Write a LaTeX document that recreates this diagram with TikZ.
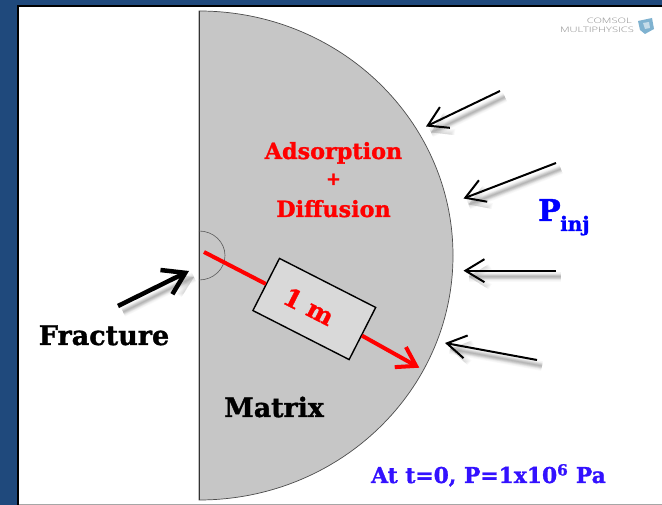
\documentclass[tikz,border=0pt]{standalone}
\usepackage{fontspec}
\setmainfont[BoldFeatures={FakeBold=1.2}]{DejaVu Serif}
\newfontfamily\logofont[FakeStretch=1.48]{Open Sans Light}
\usetikzlibrary{arrows.meta}
\definecolor{frameblue}{HTML}{1F497C}
\definecolor{matrixgray}{HTML}{C6C6C6}
\definecolor{boxgray}{HTML}{D9D9D9}
\definecolor{atblue}{HTML}{3311FF}
\definecolor{cubeblue}{HTML}{7FB2D0}
\tikzset{
  lbl/.style={font=\bfseries, inner sep=0pt, anchor=base},
  injtip/.style={-{Straight Barb[length=19pt,width=23pt,line width=2pt]}},
  injarrow/.style={line width=2pt, injtip},
  fractip/.style={-{Straight Barb[length=21pt,width=27pt,line width=4.5pt]}},
  fracarrow/.style={line width=4.5pt, fractip},
  redarrow/.style={red, line width=4pt},
  softshadow/.style={black, opacity=0.025, transform canvas={shift={(5pt,-6pt)}}},
}
\newcommand{\softline}[2]{%
  \foreach \w in {1,2.5,4,5.5,7,8.5,10}{\draw[softshadow, line width=\w pt] (#1) -- (#2);}%
  \foreach \w in {1,2,3,4,5,6}{\draw[softshadow, line width=\w pt, -{Straight Barb[length=16pt,width=20pt]}] (#1) -- (#2);}%
}
\begin{document}
\begin{tikzpicture}[x=1pt,y=1pt]
\useasboundingbox (0,0) rectangle (662,505);
% frame
\fill[frameblue] (0,0) rectangle (662,505);
\fill[black] (17,0) rectangle (662,500);
\fill[white] (19,1) rectangle (662,498);
\fill[black!35] (19,0) rectangle (662,1);
% half disc
\draw[black!70, fill=matrixgray, line width=0.7pt]
  (199,5) arc[start angle=-90, end angle=90, x radius=254, y radius=244.5] -- cycle;
\draw[black!80, line width=0.9pt] (199,5) -- (199,494);
\draw[black!65, line width=0.6pt]
  (199,274) arc[start angle=90, end angle=-90, x radius=26, y radius=24.5];
% named points
\coordinate (rs) at (204,253);
\coordinate (rt) at (419.3,137.3);
\coordinate (a1s) at (500,414); \coordinate (a1t) at (426,378.5);
\coordinate (a2s) at (556,342); \coordinate (a2t) at (463.5,306.5);
\coordinate (a3s) at (556,234.3); \coordinate (a3t) at (463.5,234.3);
\coordinate (a4s) at (537,145); \coordinate (a4t) at (445,162);
\coordinate (fs) at (118,199); \coordinate (ft) at (189,234);
% scale box
\node[draw=black, fill=boxgray, line width=1.4pt, rotate=-27, minimum width=108pt,
      minimum height=58.5pt, inner sep=0pt, text=red, font=\bfseries\fontsize{25}{25}\selectfont]
  (box) at (314.3,196) {1 m\hspace*{12pt}};
\draw[redarrow] (rs) -- (box);
\draw[redarrow, -{Straight Barb[length=18pt,width=23pt,line width=4pt]}] (box) -- (rt);
% pressure arrows
\softline{a1s}{a1t}
\softline{a2s}{a2t}
\softline{a3s}{a3t}
\softline{a4s}{a4t}
\softline{fs}{ft}
\draw[injarrow] (a1s) -- (a1t);
\draw[injarrow] (a2s) -- (a2t);
\draw[injarrow] (a3s) -- (a3t);
\draw[injarrow] (a4s) -- (a4t);
\draw[fracarrow] (fs) -- (ft);
% labels
\node[lbl, text=red, font=\bfseries\fontsize{22.3}{22.3}\selectfont] (ads) at (333.5,346) {Adsorption};
\node[lbl, text=red, font=\bfseries\fontsize{18}{18}\selectfont] (plus) at (333.5,320) {+};
\node[lbl, text=red, font=\bfseries\fontsize{22.3}{22.3}\selectfont] (dif) at (333.5,288) {Diffusion};
\node[lbl, text=black, font=\bfseries\fontsize{27}{27}\selectfont] (frac) at (104,160) {Fracture};
\node[lbl, text=black, font=\bfseries\fontsize{26.8}{26.8}\selectfont] (mat) at (274,88) {Matrix};
\node[lbl, text=blue, anchor=base west, font=\bfseries\fontsize{30}{30}\selectfont] (pinj) at (538,284) {P};
\node[lbl, text=blue, anchor=base west, font=\bfseries\fontsize{20}{20}\selectfont] (inj) at (560,274) {inj};
\node[lbl, text=atblue, font=\bfseries\fontsize{21.8}{21.8}\selectfont] (at) at (488.5,22) {At t=0, P=1x10$^{\mathbf{6}}$ Pa};
% logo
\node[inner sep=0pt, anchor=base east, text=black!45, font=\logofont\fontsize{7.5}{7.5}\selectfont] (cm) at (632,481) {COMSOL};
\node[inner sep=0pt, anchor=base east, text=black!45, font=\logofont\fontsize{7.5}{7.5}\selectfont] (mp) at (634,472) {MULTIPHYSICS};
\fill[cubeblue] (638,484) -- (652,487) -- (654,476) -- (645,471) -- (640,475) -- cycle;
\fill[white, opacity=.55] (643,482) -- (649,483) -- (650,477) -- (645,476) -- cycle;
\end{tikzpicture}
\end{document}
